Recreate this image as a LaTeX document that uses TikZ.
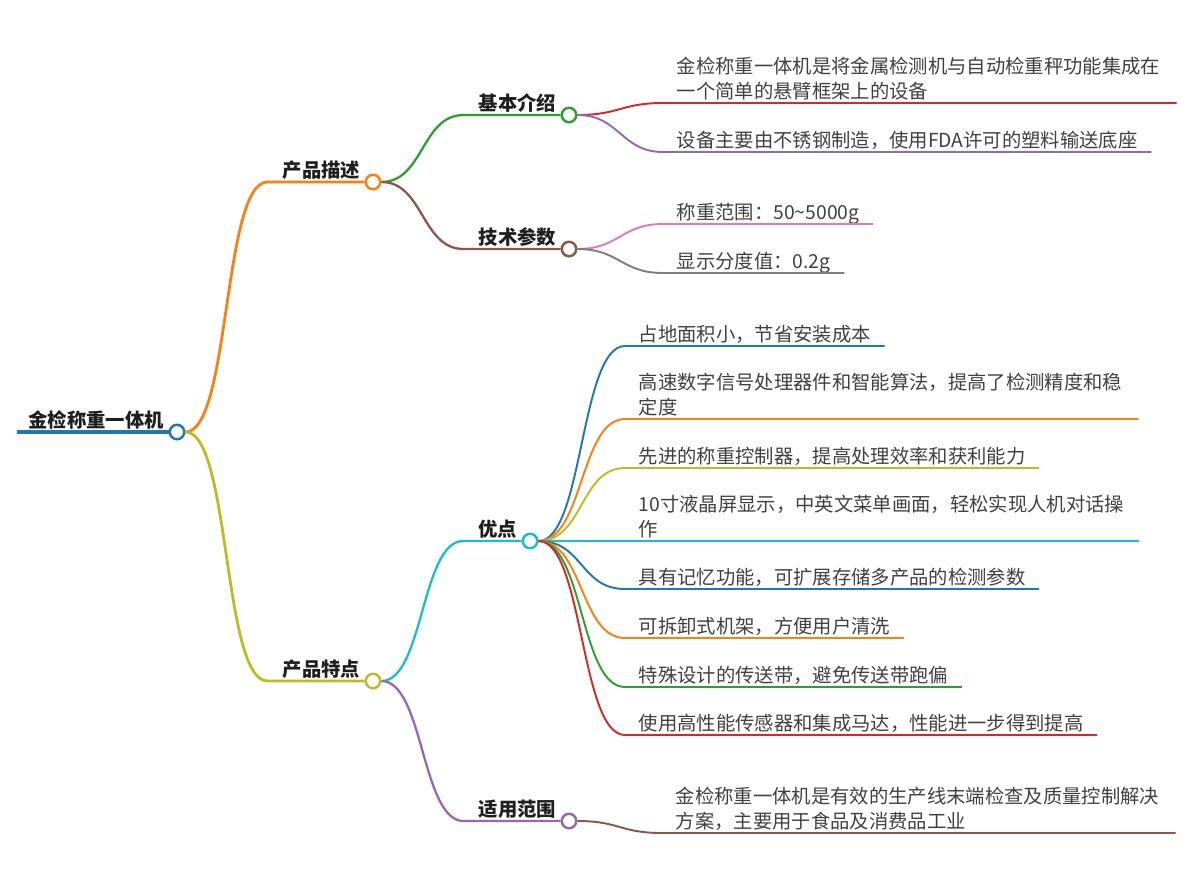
\documentclass[tikz,border=0pt]{standalone}
\usepackage{fontspec}
\setmainfont{Noto Sans CJK SC}
\usepackage{xcolor}
\usetikzlibrary{positioning,calc}

\definecolor{tbblue}{HTML}{1F77B4}
\definecolor{tborange}{HTML}{FF7F0E}
\definecolor{tbgreen}{HTML}{2CA02C}
\definecolor{tbred}{HTML}{D62728}
\definecolor{tbpurple}{HTML}{9467BD}
\definecolor{tbbrown}{HTML}{8C564B}
\definecolor{tbpink}{HTML}{E377C2}
\definecolor{tbgray}{HTML}{7F7F7F}
\definecolor{tbolive}{HTML}{BCBD22}
\definecolor{tbcyan}{HTML}{17BECF}

\begin{document}
\begin{tikzpicture}[
  x=0.02cm, y=-0.02cm,
  knob/.style={circle, draw=#1, fill=white, line width=1.4pt, minimum size=0.29cm, inner sep=0pt},
  topic/.style={font=\bfseries\fontsize{11}{13}\selectfont, text=black!88, inner sep=0pt},
  leaf/.style={font=\fontsize{11}{14}\selectfont, text=black!75, anchor=south west, align=left,
               inner xsep=0.27cm, inner ysep=0pt, text depth=2.4pt},
  twoline/.style={text width=9.72cm, text depth=16.4pt},
  curv/.style={to path={.. controls +(#1,0) and +(-#1,0) .. (\tikztotarget) \tikztonodes}},
  curv/.default=45,
  lvl1/.style={draw=#1, line width=1.6pt},
  lvl2/.style={draw=#1, line width=1.3pt},
  lvl3/.style={draw=#1, line width=1.1pt},
]
\useasboundingbox (0,0) rectangle (1200,893);

% Root
\node[knob=tbblue] (rootc) at (177,432) {};
\node[topic, above left=0.05cm and 0.09cm of rootc.west] (root) {金检称重一体机};
\coordinate (rootl) at ($(root.west |- rootc)+(-0.22cm,0)$);
\draw[tbblue, line width=2.4pt] (rootl) -- (rootc.west);

% First level
\node[knob=tborange] (descc) at (373,182) {};
\node[topic, above left=0.05cm and 0.08cm of descc.west] (desc) {产品描述};
\node[knob=tbolive] (featc) at (373,681) {};
\node[topic, above left=0.05cm and 0.08cm of featc.west] (feat) {产品特点};
\coordinate (descl) at ($(desc.west |- descc)+(-0.3cm,0)$);
\coordinate (featl) at ($(feat.west |- featc)+(-0.3cm,0)$);
\draw[lvl1=tborange] (rootc.east) to[curv] (descl) -- (descc.west);
\draw[lvl1=tbolive] (rootc.east) to[curv] (featl) -- (featc.west);

% Second level
\node[knob=tbgreen] (introc) at (569,115) {};
\node[topic, above left=0.05cm and 0.08cm of introc.west] (intro) {基本介绍};
\node[knob=tbbrown] (specc) at (569,249) {};
\node[topic, above left=0.05cm and 0.08cm of specc.west] (spec) {技术参数};
\node[knob=tbcyan] (advc) at (530,541) {};
\node[topic, above left=0.05cm and 0.08cm of advc.west] (adv) {优点};
\node[knob=tbpurple] (usec) at (569,821) {};
\node[topic, above left=0.05cm and 0.08cm of usec.west] (use) {适用范围};
\coordinate (introl) at ($(intro.west |- introc)+(-0.3cm,0)$);
\coordinate (specl) at ($(spec.west |- specc)+(-0.3cm,0)$);
\coordinate (advl) at ($(adv.west |- advc)+(-0.3cm,0)$);
\coordinate (usel) at ($(use.west |- usec)+(-0.3cm,0)$);
\draw[lvl2=tbgreen] (descc.east) to[curv=42] (introl) -- (introc.west);
\draw[lvl2=tbbrown] (descc.east) to[curv=42] (specl) -- (specc.west);
\draw[lvl2=tbcyan] (featc.east) to[curv=42] (advl) -- (advc.west);
\draw[lvl2=tbpurple] (featc.east) to[curv=42] (usel) -- (usec.west);

% Leaves
\node[leaf, twoline] (intro1) at (663,103) {金检称重一体机是将金属检测机与自动检重秤功能集成在\\一个简单的悬臂框架上的设备};
\node[leaf] (intro2) at (663,152) {设备主要由不锈钢制造，使用FDA许可的塑料输送底座};
\node[leaf] (spec1) at (663,224) {称重范围：50\textasciitilde 5000g};
\node[leaf] (spec2) at (663,273) {显示分度值：0.2g};

\node[leaf] (adv1) at (625,346) {占地面积小，节省安装成本};
\node[leaf, twoline] (adv2) at (625,419) {高速数字信号处理器件和智能算法，提高了检测精度和稳\\定度};
\node[leaf] (adv3) at (625,468) {先进的称重控制器，提高处理效率和获利能力};
\node[leaf, twoline] (adv4) at (625,541) {10寸液晶屏显示，中英文菜单画面，轻松实现人机对话操\\作};
\node[leaf] (adv5) at (625,589) {具有记忆功能，可扩展存储多产品的检测参数};
\node[leaf] (adv6) at (625,638) {可拆卸式机架，方便用户清洗};
\node[leaf] (adv7) at (625,687) {特殊设计的传送带，避免传送带跑偏};
\node[leaf] (adv8) at (625,735) {使用高性能传感器和集成马达，性能进一步得到提高};

\node[leaf, twoline] (use1) at (662,833) {金检称重一体机是有效的生产线末端检查及质量控制解决\\方案，主要用于食品及消费品工业};

\draw[lvl3=tbred] (introc.east) to[curv=42] (intro1.south west) -- (intro1.south east);
\draw[lvl3=tbpurple] (introc.east) to[curv=42] (intro2.south west) -- (intro2.south east);
\draw[lvl3=tbpink] (specc.east) to[curv=42] (spec1.south west) -- (spec1.south east);
\draw[lvl3=tbgray] (specc.east) to[curv=42] (spec2.south west) -- (spec2.south east);

\draw[lvl3=tbblue] (advc.east) to[curv] (adv1.south west) -- (adv1.south east);
\draw[lvl3=tborange] (advc.east) to[curv] (adv2.south west) -- (adv2.south east);
\draw[lvl3=tbolive] (advc.east) to[curv] (adv3.south west) -- (adv3.south east);
\draw[lvl3=tbcyan] (advc.east) to[curv] (adv4.south west) -- (adv4.south east);
\draw[lvl3=tbblue] (advc.east) to[curv] (adv5.south west) -- (adv5.south east);
\draw[lvl3=tborange] (advc.east) to[curv] (adv6.south west) -- (adv6.south east);
\draw[lvl3=tbgreen] (advc.east) to[curv] (adv7.south west) -- (adv7.south east);
\draw[lvl3=tbred] (advc.east) to[curv] (adv8.south west) -- (adv8.south east);

\draw[lvl3=tbbrown] (usec.east) to[curv=42] (use1.south west) -- (use1.south east);

\end{tikzpicture}
\end{document}
